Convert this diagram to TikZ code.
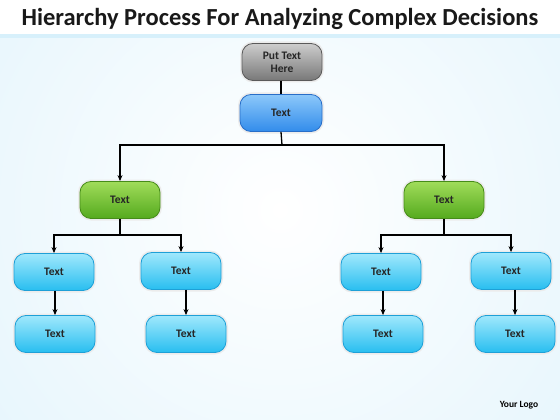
\documentclass[tikz,border=0pt]{standalone}
\usepackage{fontspec}
\setmainfont{Carlito}
\usetikzlibrary{arrows.meta,shadings}
\definecolor{bgblue}{RGB}{205,236,250}
\definecolor{grayT}{RGB}{205,205,205}
\definecolor{grayB}{RGB}{120,120,120}
\definecolor{grayD}{RGB}{90,90,90}
\definecolor{blueT}{RGB}{140,200,250}
\definecolor{blueB}{RGB}{50,140,235}
\definecolor{blueD}{RGB}{40,110,200}
\definecolor{greenT}{RGB}{160,220,90}
\definecolor{greenB}{RGB}{85,170,30}
\definecolor{greenD}{RGB}{70,140,25}
\definecolor{cyanT}{RGB}{160,232,252}
\definecolor{cyanB}{RGB}{40,190,240}
\definecolor{cyanD}{RGB}{30,160,215}
\tikzset{
  boxbase/.style={rounded corners=11pt, minimum width=80pt, minimum height=37pt,
     font=\bfseries\fontsize{11.5}{13}\selectfont, text=black!85, align=center,
     preaction={draw=white!85!gray, line width=4pt}, line width=0.8pt},
  graybox/.style={boxbase, draw=grayD, top color=grayT, bottom color=grayB},
  bluebox/.style={boxbase, draw=blueD, top color=blueT, bottom color=blueB},
  greenbox/.style={boxbase, draw=greenD, top color=greenT, bottom color=greenB},
  cyanbox/.style={boxbase, draw=cyanD, top color=cyanT, bottom color=cyanB},
  conn/.style={line width=1.3pt, black},
  arr/.style={conn, -{Stealth[length=6pt,width=5pt]}}
}
\begin{document}
\begin{tikzpicture}[x=1pt,y=-1pt]
\useasboundingbox (0,0) rectangle (560,420);
\fill[bgblue] (0,0) rectangle (560,420);
\begin{scope}
\clip (0,0) rectangle (560,420);
\shade[inner color=white, outer color=bgblue] (-480,-550) rectangle (1040,970);
\end{scope}
\fill[white] (0,0) rectangle (560,34);
\fill[bgblue!80!white] (0,34) rectangle (560,38);
\node[font=\bfseries\fontsize{24.5}{27}\selectfont, text=black!90] (title) at (280,19) {Hierarchy Process For Analyzing Complex Decisions};
\node[graybox] (g) at (282,62) {Put Text\\Here};
\node[bluebox, minimum width=82pt] (b) at (281,113) {Text};
\node[greenbox] (gl) at (120,200) {Text};
\node[greenbox] (gr) at (444,200) {Text};
\node[cyanbox] (a1) at (54,272) {Text};
\node[cyanbox] (a2) at (181,271) {Text};
\node[cyanbox] (a3) at (381,272) {Text};
\node[cyanbox] (a4) at (511,271) {Text};
\node[cyanbox] (c1) at (55,334) {Text};
\node[cyanbox] (c2) at (186,334) {Text};
\node[cyanbox] (c3) at (383,334) {Text};
\node[cyanbox] (c4) at (515,334) {Text};
\node[font=\bfseries\fontsize{9.5}{11}\selectfont] (logo) at (519,405) {Your Logo};
\coordinate (h1) at (282,145);
\coordinate (h2) at (120,235);
\coordinate (h3) at (444,235);
\draw[conn] (g.south -| b) -- (b.north);
\draw[conn] (b.south) -- (h1);
\draw[arr] (h1) -| (gl.north);
\draw[arr] (h1) -| (gr.north);
\draw[conn] (gl.south) -- (h2);
\draw[arr] (h2) -| (a1.north);
\draw[arr] (h2) -| (a2.north);
\draw[conn] (gr.south) -- (h3);
\draw[arr] (h3) -| (a3.north);
\draw[arr] (h3) -| (a4.north);
\draw[arr] (c1.north |- a1.south) -- (c1.north);
\draw[arr] (c2.north |- a2.south) -- (c2.north);
\draw[arr] (c3.north |- a3.south) -- (c3.north);
\draw[arr] (c4.north |- a4.south) -- (c4.north);
\end{tikzpicture}
\end{document}
